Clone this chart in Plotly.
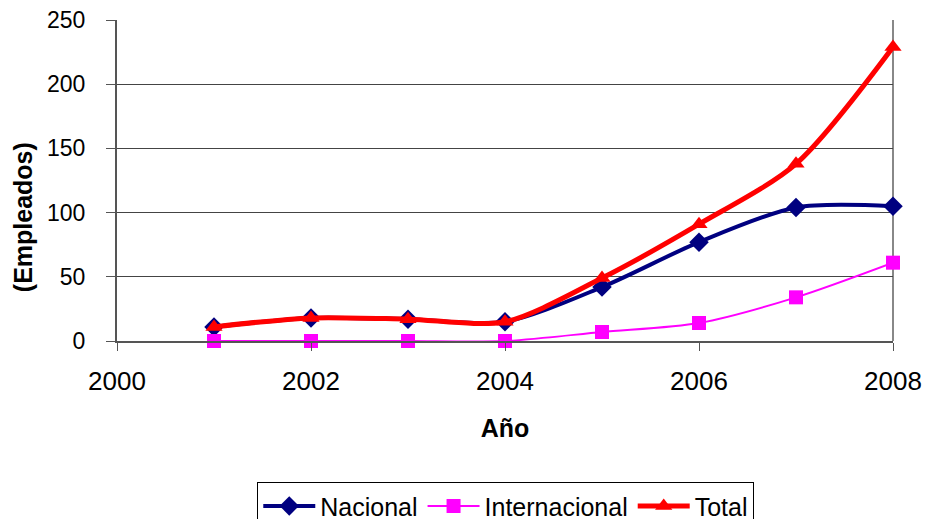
import plotly.graph_objects as go

years = [2001, 2002, 2003, 2004, 2005, 2006, 2007, 2008]
nacional = [11, 18, 17, 15, 42, 77, 104, 105]
internacional = [0, 0, 0, 0, 7, 14, 34, 61]
total = [11, 18, 17, 15, 49, 91, 138, 229]

font_family = "Liberation Sans, Arial, sans-serif"

fig = go.Figure()
fig.add_trace(go.Scatter(
    x=years, y=nacional, name="Nacional", mode="lines+markers", cliponaxis=False,
    line=dict(color="#000080", width=4, shape="spline", smoothing=0.8),
    marker=dict(symbol="diamond", size=15, color="#000080"),
))
fig.add_trace(go.Scatter(
    x=years, y=internacional, name="Internacional", mode="lines+markers", cliponaxis=False,
    line=dict(color="#FF00FF", width=2, shape="spline", smoothing=0.8),
    marker=dict(symbol="square", size=14, color="#FF00FF"),
))
fig.add_trace(go.Scatter(
    x=years, y=total, name="Total", mode="lines+markers", cliponaxis=False,
    line=dict(color="#FF0000", width=5, shape="spline", smoothing=0.8),
    marker=dict(symbol="triangle-up", size=15, color="#FF0000"),
))

fig.update_layout(
    width=926, height=519,
    margin=dict(l=117, r=33, t=20, b=178, autoexpand=False),
    paper_bgcolor="white", plot_bgcolor="white",
    font=dict(family=font_family, color="black", size=25),
    showlegend=True,
    legend=dict(
        orientation="h", x=0.501, xanchor="center",
        yref="container", y=0.071, yanchor="top",
        bordercolor="black", borderwidth=1, font=dict(size=25),
        itemwidth=52, tracegroupgap=0,
    ),
    xaxis=dict(
        range=[2000, 2008], tickmode="array", tickvals=[2000, 2002, 2004, 2006, 2008],
        showgrid=False, zeroline=False, automargin=False,
        showline=True, linecolor="#555555", linewidth=2, mirror=False,
        ticks="outside", ticklen=8, tickcolor="#555555",
        tickfont=dict(size=26), ticklabelstandoff=8,
        title=dict(text="<b>Año</b>", font=dict(size=25), standoff=24),
    ),
    yaxis=dict(
        range=[0, 250], tickvals=[0, 50, 100, 150, 200, 250],
        showgrid=True, gridcolor="#444444", gridwidth=1, zeroline=False, automargin=False,
        showline=True, linecolor="#555555", linewidth=2, mirror=False,
        ticks="outside", ticklen=9, tickcolor="#555555",
        tickfont=dict(size=23), ticklabelstandoff=16,
    ),
)

# y-axis title, set a little below the vertical centre of the plot
fig.add_annotation(
    text="<b>(Empleados)</b>", textangle=-90, showarrow=False,
    xref="paper", yref="paper", x=-0.121, y=0.386,
    xanchor="center", yanchor="middle", font=dict(size=25),
)

# right border of the plot area
fig.add_shape(type="line", xref="paper", yref="paper", x0=1, x1=1, y0=0, y1=1,
              line=dict(color="#888888", width=2), layer="below")

fig.write_html("out.html")
